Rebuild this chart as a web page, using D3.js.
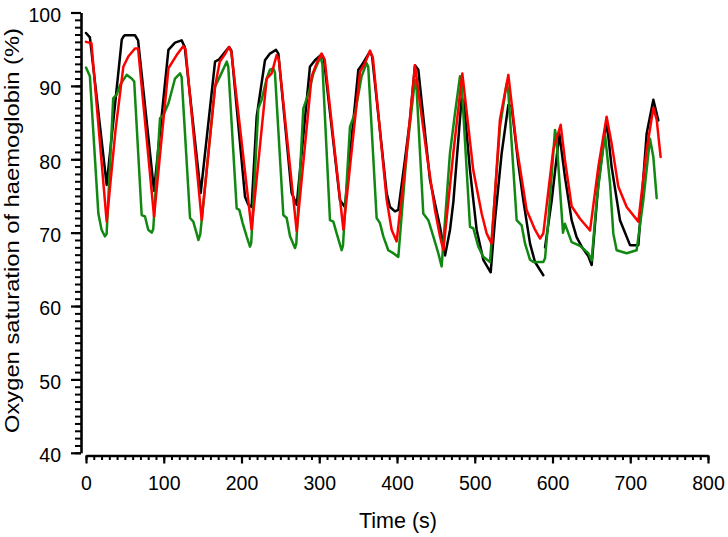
<!DOCTYPE html>
<html>
<head>
<meta charset="utf-8">
<script src="https://cdn.jsdelivr.net/npm/d3@7"></script>
<style>
  html, body { margin: 0; padding: 0; background: #fff; }
  svg { display: block; }
  text { font-family: Arial, "Liberation Sans", sans-serif; fill: #000; }
</style>
</head>
<body>
<svg id="chart" width="728" height="537"></svg>
<script>
// ---- data: [time (s), saturation (%)] ----
const blackSeries = [[0,97.2],[5,96.6],[26.6,76.5],[46,96.3],[48,96.7],[50,96.9],[63,96.9],[67,96.2],[87.5,75.7],[106,94.9],[114.5,95.9],[123,96.2],[127,95.3],[147.5,75.4],[166,93.3],[171,93.6],[178,94.5],[184,95.3],[187,94.8],[204.5,74.9],[208.8,73.8],[213,73.5],[219.5,85.8],[230.2,93.5],[236.6,94.4],[244.4,94.9],[247.4,94.4],[264.5,75.4],[271,73.8],[288,92.6],[294.5,93.5],[303,94.3],[306,93.6],[326.7,74.4],[333,73.5],[350.3,92.2],[354.5,92.8],[365.3,94.7],[368,94.0],[386.7,75.4],[391,73.5],[397.4,72.9],[401.7,73.1],[410.2,79.9],[416.7,85.4],[423.1,92.8],[427.4,92.2],[442.4,77.2],[448.8,74.0],[455.3,70.8],[461.8,66.9],[468.2,70.4],[472.5,74.2],[483.1,88.3],[486,87.8],[493.9,78.5],[502.4,70.4],[511,66.3],[520.5,64.6],[526,71.7],[534.6,80.8],[543.2,87.4],[547.4,87.2],[556,79.4],[562.5,74.4],[571.1,68.5],[577.5,66.0],[588.2,64.2],[589,null],[590.4,68.0],[599,74.4],[608.8,83.5],[616,77.6],[624.6,71.7],[631,69.4],[638,68.0],[646,66.8],[650.4,65.6],[659,76.7],[669.6,85.3],[676,79.0],[686.8,71.7],[699.7,68.3],[710.4,68.3],[721.1,83.5],[729.7,88.1],[736.1,85.3]];

const redSeries = [[0,96.0],[7,95.8],[26.6,71.5],[38,84],[48,92.6],[54.4,94.0],[63,95.1],[67,95.1],[87.5,72.2],[106,92.4],[116.6,94.2],[125,95.4],[128,95.0],[148.8,71.7],[166,89.9],[172,93.3],[178,94.2],[184,95.3],[187,94.6],[213,70.4],[232.4,91.0],[238.8,91.7],[245.2,94.2],[248,93.6],[271,70.2],[290.2,91.3],[296.7,93.1],[303,94.4],[307,93.6],[331,70.4],[352.4,91.9],[358.8,93.1],[365.3,94.8],[369,93.8],[386.7,74.5],[393.1,70.4],[399.5,68.8],[412.4,80.8],[423.1,92.8],[438.1,80.8],[448.8,73.1],[455.3,69.5],[459.6,67.6],[472.4,80.8],[484,91.7],[498.1,78.5],[508.9,72.6],[515.3,69.9],[521.7,68.5],[532.4,85.4],[543.2,91.5],[553.9,81.7],[566.7,73.1],[577.5,70.4],[584,69.2],[588.2,69.9],[601,81.3],[610.5,84.7],[616,79.9],[624.6,73.6],[635.4,71.9],[648.3,70.3],[659,79.0],[669.6,85.8],[676,82.2],[684.6,76.3],[695.4,73.5],[710.4,71.5],[721.1,81.3],[729.7,87.0],[734,85.4],[739.1,80.3]];

const greenSeries = [[0,92.5],[5,91.3],[15.9,72.6],[20,70.4],[24.4,69.5],[26.5,69.8],[35,88.3],[39.4,88.8],[43.7,90.1],[52.3,91.5],[58.7,91.0],[62,90.6],[71.6,72.4],[75.9,72.2],[80,70.4],[84.5,70.0],[86.5,70.5],[95.2,85.6],[99.5,86.0],[106,87.6],[114.5,91.0],[121,91.7],[123,91.2],[133.8,72.0],[138,71.5],[142.3,69.9],[144.5,69.0],[147,69.8],[166,89.9],[172.3,91.3],[181,93.3],[183,92.6],[193.8,73.3],[197.2,73.1],[201.5,71.3],[206.6,69.5],[210.9,68.1],[212.5,68.6],[221.6,86.9],[225.9,88.1],[232.4,91.0],[236.6,92.2],[240.9,92.4],[243,91.8],[253.8,72.4],[258.1,72.0],[262.4,69.5],[268.8,67.9],[270.5,68.5],[279.5,86.9],[286,88.9],[292.4,91.7],[300,93.6],[302,93.8],[304,93.0],[313.8,71.7],[318.1,71.5],[322.4,69.9],[328.8,67.6],[330.5,68.2],[339.5,84.4],[346,86.3],[354.5,91.3],[360.9,93.1],[363,92.6],[373.8,72.0],[378.1,71.3],[382.4,69.5],[388.8,67.6],[395.2,67.2],[401.7,66.7],[412.4,80.8],[423.1,90.8],[425,90.0],[433.8,72.6],[440.3,71.7],[446.7,69.5],[453.1,67.2],[457.4,65.4],[468.1,80.8],[474.6,86.3],[481,91.3],[483,90.5],[493.9,70.8],[498.1,70.6],[504.6,68.1],[511,66.7],[519.6,66.0],[532.4,84.4],[541,90.3],[543,89.5],[553.9,71.7],[560.3,71.0],[564.7,68.5],[571.1,66.3],[575.4,66.0],[588.2,66.0],[590.4,66.5],[594.7,71.7],[603.2,84.0],[605,83.0],[613.5,70.0],[616,71.2],[624.6,68.7],[635.4,68.2],[646.1,67.2],[650.4,66.2],[656.8,74.4],[667.5,83.5],[674,76.7],[678.2,69.9],[682.5,67.6],[695.4,67.2],[708.2,67.6],[716.8,74.4],[725.4,82.8],[729.7,80.3],[734,74.7]];

const xMajorTicks = [0, 100, 200, 300, 400, 500, 600, 700, 800];
const yMajorTicks = [40, 50, 60, 70, 80, 90, 100];
const xTitle = "Time (s)";
const yTitle = "Oxygen saturation of haemoglobin (%)";

// ---- drawing ----
const svg = d3.select("#chart");
const x = d3.scaleLinear().domain([0, 800]).range([86, 708]);
const y = d3.scaleLinear().domain([40, 100]).range([452.8, 12.5]);

const axisX = 81;    // y-axis position
const axisY = 455.5; // x-axis position
const fontFam = "Arial, 'Liberation Sans', sans-serif";

// Y axis: minor ticks
const yMinor = d3.range(40, 101, 1);
svg.append("g").attr("transform", `translate(${axisX},0)`)
  .call(d3.axisLeft(y).tickValues(yMinor).tickSize(6).tickFormat(""))
  .call(g => g.select(".domain").remove())
  .call(g => g.selectAll("line").attr("stroke", "#000").attr("stroke-width", 2));
// Y axis: major ticks + labels
svg.append("g").attr("transform", `translate(${axisX},0)`)
  .call(d3.axisLeft(y).tickValues(yMajorTicks).tickSize(10).tickSizeOuter(0).tickPadding(10).tickFormat(d3.format("d")))
  .call(g => g.select(".domain").attr("stroke", "#000").attr("stroke-width", 2.6))
  .call(g => g.selectAll("line").attr("stroke", "#000").attr("stroke-width", 2.2))
  .call(g => g.selectAll("text").attr("font-size", 19.5).attr("dy", "0.45em")
     .style("font-family", fontFam));

// X axis: minor ticks
const xMinor = d3.range(0, 801, 10);
svg.append("g").attr("transform", `translate(0,${axisY})`)
  .call(d3.axisBottom(x).tickValues(xMinor).tickSize(4.5).tickFormat(""))
  .call(g => g.select(".domain").remove())
  .call(g => g.selectAll("line").attr("stroke", "#000").attr("stroke-width", 2));
// X axis: major ticks + labels
svg.append("g").attr("transform", `translate(0,${axisY})`)
  .call(d3.axisBottom(x).tickValues(xMajorTicks).tickSize(8).tickSizeOuter(0).tickPadding(13).tickFormat(d3.format("d")))
  .call(g => g.select(".domain").attr("stroke", "#000").attr("stroke-width", 2.6))
  .call(g => g.selectAll("line").attr("stroke", "#000").attr("stroke-width", 2.2))
  .call(g => g.selectAll("text").attr("font-size", 19.5)
     .style("font-family", fontFam));

// Series lines
const line = d3.line()
  .defined(d => d[1] !== null)
  .x(d => x(d[0]))
  .y(d => y(d[1]));

const series = [
  { data: blackSeries, color: "#000000" },
  { data: greenSeries, color: "#118811" },
  { data: redSeries,   color: "#ff0000" }
];
svg.append("g").selectAll("path").data(series).join("path")
  .attr("d", d => line(d.data))
  .attr("fill", "none")
  .attr("stroke", d => d.color)
  .attr("stroke-width", 2.5)
  .attr("stroke-linejoin", "round")
  .attr("stroke-linecap", "round");

// Axis titles
svg.append("text")
  .attr("x", 398).attr("y", 528)
  .attr("text-anchor", "middle")
  .attr("font-size", 21.5)
  .text(xTitle);

svg.append("text")
  .attr("transform", "translate(19,230.5) rotate(-90)")
  .attr("text-anchor", "middle")
  .attr("font-size", 20.5)
  .attr("textLength", 405)
  .attr("lengthAdjust", "spacingAndGlyphs")
  .text(yTitle);
</script>
</body>
</html>
